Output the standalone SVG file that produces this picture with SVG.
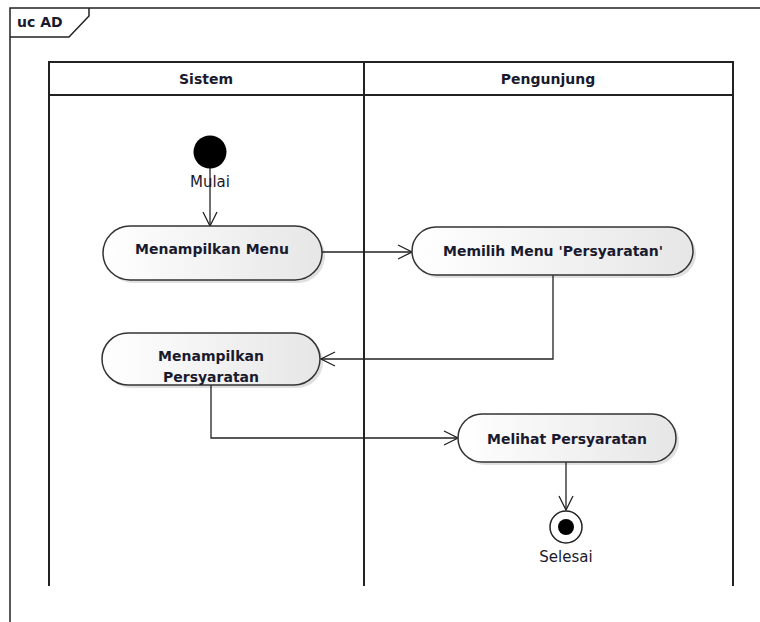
<svg xmlns="http://www.w3.org/2000/svg" width="760" height="622" viewBox="0 0 760 622">
<style>
  text { font-family: "DejaVu Sans", Verdana, sans-serif; fill: #1a1a2e; }
  .b { font-weight: bold; font-size: 14px; }
  .n { font-size: 15px; }
  .frame { fill: none; stroke: #222; stroke-width: 1.5; }
  .lane { fill: none; stroke: #222; stroke-width: 2; }
  .act { fill: url(#g); stroke: #333; stroke-width: 1.5; }
  .edge { fill: none; stroke: #222; stroke-width: 1.3; }
  .sh { fill: #000; opacity: 0.12; }
</style>
<defs>
  <linearGradient id="g" x1="0" y1="0" x2="1" y2="0">
    <stop offset="0" stop-color="#ffffff"/>
    <stop offset="1" stop-color="#e6e6e6"/>
  </linearGradient>
  <marker id="arr" viewBox="0 0 16 16" refX="15" refY="8" markerWidth="16" markerHeight="16" markerUnits="userSpaceOnUse" orient="auto">
    <path d="M1,1 L15,8 L1,15" fill="none" stroke="#222" stroke-width="1.3"/>
  </marker>
</defs>
<rect width="760" height="622" fill="#fff"/>
<g id="frame">
  <path class="frame" d="M10,622 L10,8 L760,8"/>
  <path class="frame" d="M10,37 L69,37 L89,16 L89,8"/>
  <text class="b" x="17" y="27">uc AD</text>
</g>
<g id="lanes">
  <path class="lane" d="M49,586 L49,62 L733,62 L733,586"/>
  <line class="lane" x1="49" y1="95" x2="733" y2="95"/>
  <line class="lane" x1="364" y1="62" x2="364" y2="586"/>
  <text class="b" x="206" y="84" text-anchor="middle">Sistem</text>
  <text class="b" x="548" y="84" text-anchor="middle">Pengunjung</text>
</g>
<g id="connectors">
  <line class="edge" x1="210" y1="168" x2="210" y2="226" marker-end="url(#arr)"/>
  <line class="edge" x1="322" y1="252" x2="412" y2="252" marker-end="url(#arr)"/>
  <path class="edge" d="M553,275 L553,359 L321,359" marker-end="url(#arr)"/>
  <path class="edge" d="M211,385 L211,438 L458,438" marker-end="url(#arr)"/>
  <line class="edge" x1="566" y1="462" x2="566" y2="510" marker-end="url(#arr)"/>
</g>
<g id="start">
  <circle cx="210" cy="152" r="16.5" fill="#000"/>
  <text class="n" x="210" y="187" text-anchor="middle">Mulai</text>
</g>
<g id="menampilkan-menu">
  <rect class="sh" x="106" y="229" width="219" height="54" rx="27"/>
  <rect class="act" x="103" y="226" width="219" height="54" rx="27"/>
  <text class="b" x="212" y="254" text-anchor="middle">Menampilkan Menu</text>
</g>
<g id="memilih-menu">
  <rect class="sh" x="415" y="230" width="281" height="48" rx="24"/>
  <rect class="act" x="412" y="227" width="281" height="48" rx="24"/>
  <text class="b" x="553" y="256" text-anchor="middle">Memilih Menu 'Persyaratan'</text>
</g>
<g id="menampilkan-persyaratan">
  <rect class="sh" x="105" y="336" width="218" height="52" rx="26"/>
  <rect class="act" x="102" y="333" width="218" height="52" rx="26"/>
  <text class="b" x="211" y="361" text-anchor="middle">Menampilkan</text>
  <text class="b" x="211" y="382" text-anchor="middle">Persyaratan</text>
</g>
<g id="melihat-persyaratan">
  <rect class="sh" x="461" y="417" width="218" height="48" rx="24"/>
  <rect class="act" x="458" y="414" width="218" height="48" rx="24"/>
  <text class="b" x="567" y="444" text-anchor="middle">Melihat Persyaratan</text>
</g>
<g id="end">
  <circle cx="566" cy="527" r="16" fill="#fff" stroke="#222" stroke-width="1.5"/>
  <circle cx="566" cy="527" r="8" fill="#000"/>
  <text class="n" x="566" y="562" text-anchor="middle">Selesai</text>
</g>
</svg>
